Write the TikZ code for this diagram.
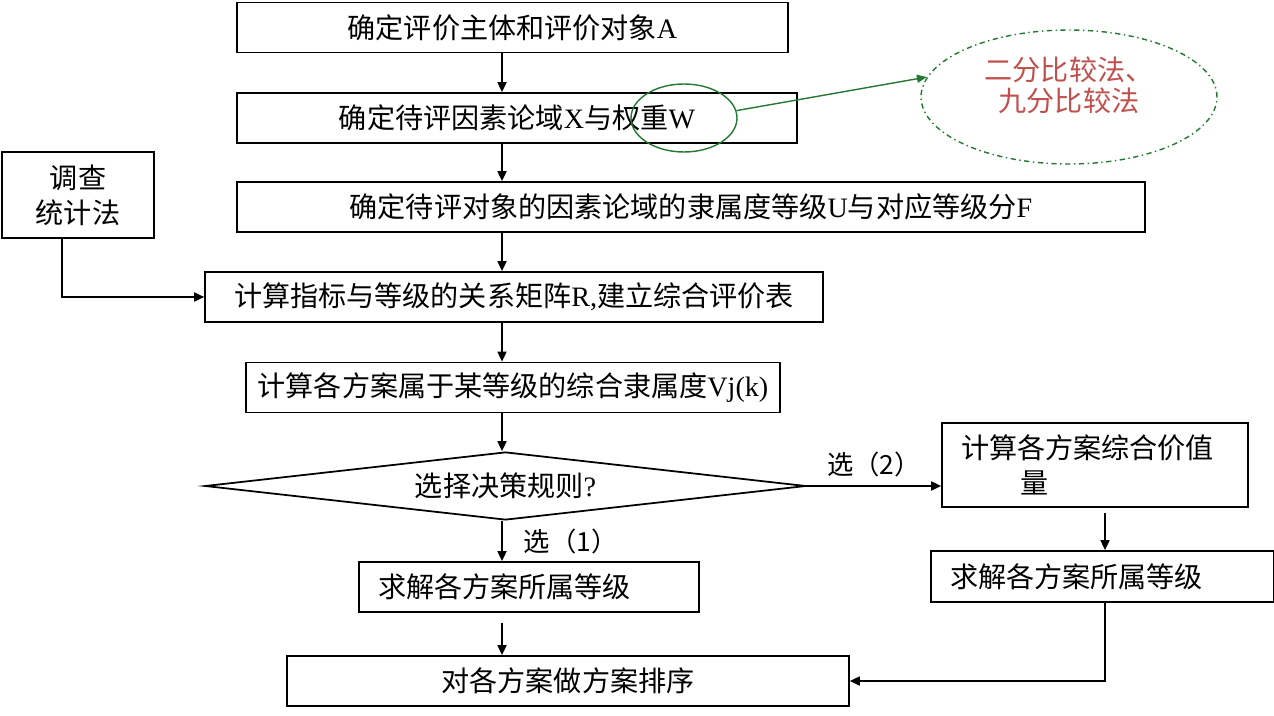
\documentclass[tikz,border=0pt]{standalone}
\usepackage{fontspec}
\setmainfont{Liberation Serif}
\newfontfamily\cjk{Noto Sans CJK SC}
\usetikzlibrary{arrows.meta,shapes.geometric,positioning}
\definecolor{notered}{RGB}{192,80,77}
\definecolor{notegreen}{RGB}{35,120,50}

\begin{document}
\begin{tikzpicture}[x=0.02cm,y=-0.02cm,
	box/.style={draw,line width=1pt,inner sep=0pt,minimum height=1cm,font=\fontsize{16}{20}\selectfont},
	leftbox/.style={box,align=left,inner xsep=0.38cm},
	flow/.style={line width=1pt,-{Triangle[length=2mm,width=1.8mm]}},
	choice/.style={font=\fontsize{15}{18}\selectfont}]
	\useasboundingbox (0,0) rectangle (1274,716);

	% main column
	\node[box,minimum width=11.02cm] (subject) at (512.5,27.5) {{\cjk 确定评价主体和评价对象}A};
	\node[box,minimum width=11.2cm] (factor) at (517,118) {{\cjk 确定待评因素论域}X{\cjk 与权重}W};
	\node[box,minimum width=18.16cm] (grade) at (691,207) {{\cjk 确定待评对象的因素论域的隶属度等级}U{\cjk 与对应等级分}F};
	\node[box,minimum width=12.36cm] (matrix) at (514,297) {{\cjk 计算指标与等级的关系矩阵}R,{\cjk 建立综合评价表}};
	\node[box,minimum width=10.68cm] (member) at (513,387.5) {{\cjk 计算各方案属于某等级的综合隶属度}Vj(k)};
	\node[draw,line width=1pt,diamond,aspect=8.8,inner sep=0pt,minimum width=12.02cm,minimum height=1.36cm,
		font=\fontsize{16}{18}\selectfont] (rule) at (505.5,486) {{\cjk 选择决策规则}?};
	\node[leftbox,text width=6.04cm] (solveA) at (529,587) {\cjk 求解各方案所属等级};
	\node[box,minimum width=11.24cm] (rank) at (568,681) {\cjk 对各方案做方案排序};

	% side boxes
	\node[box,align=center,minimum width=3.04cm,minimum height=1.72cm] (survey) at (78,195) {\cjk 调查\\\cjk 统计法};
	\node[leftbox,text width=5.36cm,minimum height=1.68cm] (value) at (1095,465)
		{\cjk 计算各方案综合价值\\\hspace{2.1em}\cjk 量};
	\node[leftbox,text width=6.1cm,minimum height=1.02cm] (solveB) at (1102.5,576.5) {\cjk 求解各方案所属等级};

	% note
	\node[draw=notegreen,line width=0.8pt,ellipse,minimum width=2.12cm,minimum height=1.36cm] (wmark) at (684,118) {};
	\node[draw=notegreen,line width=0.8pt,dash dot,ellipse,minimum width=5.92cm,minimum height=2.68cm,
		align=center,text=notered,font=\fontsize{16}{18}\selectfont] (method) at (1069,97)
		{\cjk 二分比较法、\\\cjk 九分比较法\\[-0.2em]};

	\coordinate (axis) at (502,0);
	\coordinate (raxis) at (1105,0);

	\draw[flow] (subject.south -| axis) -- (factor.north -| axis);
	\draw[flow] (factor.south -| axis) -- (grade.north -| axis);
	\draw[flow] (grade.south -| axis) -- (matrix.north -| axis);
	\draw[flow] (matrix.south -| axis) -- (member.north -| axis);
	\draw[flow] (member.south -| axis) -- (rule.north -| axis);
	\draw[flow] (rule.south -| axis) -- (solveA.north -| axis)
		node[choice,midway,right=0.3cm] (pick1) {\cjk 选（1）};
	\draw[flow,shorten <=0.2cm] (solveA.south -| axis) -- (rank.north -| axis);
	\draw[flow] (rule.east) -- (value.west |- rule.east)
		node[choice,midway,above=0.05cm] (pick2) {\cjk 选（2）};
	\draw[flow,shorten <=0.1cm] (value.south -| raxis) -- (solveB.north -| raxis);
	\draw[flow] (solveB.south -| raxis) |- (rank.east);
	\draw[flow] ([xshift=-0.32cm]survey.south) |- (matrix.west);
	\draw[notegreen,line width=0.8pt,-{Triangle[length=2mm,width=1.6mm]}] (wmark.8) -- (method.172);
\end{tikzpicture}
\end{document}
